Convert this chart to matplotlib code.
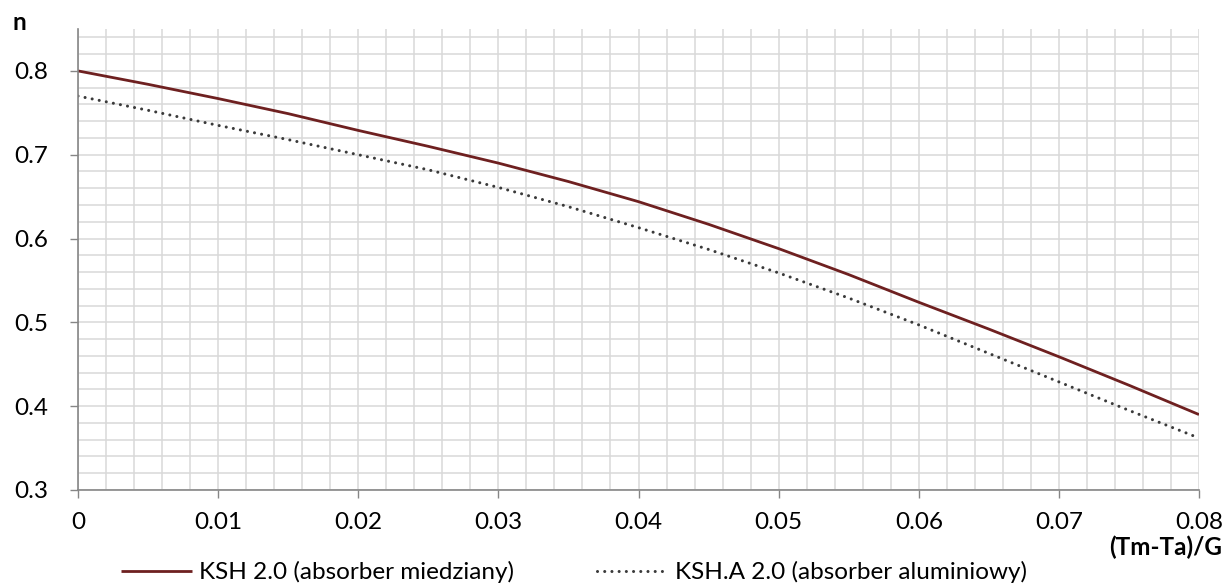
import matplotlib.pyplot as plt
from matplotlib.ticker import MultipleLocator

# (Tm-Ta)/G values and efficiency
x = [0, 0.005, 0.01, 0.015, 0.02, 0.025, 0.03, 0.035, 0.04,
     0.045, 0.05, 0.055, 0.06, 0.065, 0.07, 0.075, 0.08]
eta_cu = [0.800, 0.784, 0.767, 0.749, 0.729, 0.710, 0.690, 0.668, 0.644,
          0.617, 0.588, 0.557, 0.524, 0.492, 0.459, 0.425, 0.390]
eta_al = [0.770, 0.753, 0.735, 0.718, 0.700, 0.682, 0.661, 0.638, 0.613,
          0.587, 0.559, 0.529, 0.497, 0.463, 0.429, 0.395, 0.362]

xticks = [0, 0.01, 0.02, 0.03, 0.04, 0.05, 0.06, 0.07, 0.08]
xtick_labels = ['0', '0.01', '0.02', '0.03', '0.04', '0.05', '0.06', '0.07', '0.08']
yticks = [0.3, 0.4, 0.5, 0.6, 0.7, 0.8]
ytick_labels = ['0.3', '0.4', '0.5', '0.6', '0.7', '0.8']
labels = ['KSH 2.0 (absorber miedziany)', 'KSH.A 2.0 (absorber aluminiowy)']

plt.rcParams['font.family'] = ['Lato', 'DejaVu Sans']
plt.rcParams['font.size'] = 17.5

fig = plt.figure(figsize=(12.3, 5.87), dpi=100)
ax = fig.add_axes([78 / 1230, 1 - 490 / 587, (1199 - 78) / 1230, (490 - 29) / 587])

ax.plot(x, eta_cu, color='#6e2020', lw=2.0, solid_capstyle='butt',
        solid_joinstyle='round', label=labels[0])
ax.plot(x, eta_al, color='#3a3a3a', lw=2.2, linestyle=(0, (0.01, 2.35)),
        dash_capstyle='round', label=labels[1])

ax.set_xlim(0, 0.08)
ax.set_ylim(0.3, 0.85)
ax.set_xticks(xticks, xtick_labels)
ax.set_yticks(yticks, ytick_labels)
ax.xaxis.set_minor_locator(MultipleLocator(0.002))
ax.yaxis.set_minor_locator(MultipleLocator(0.02))

ax.grid(which='both', color='#d9d9d9', lw=1.1)
ax.set_axisbelow(True)
for s in ['top', 'right']:
    ax.spines[s].set_visible(False)
for s in ['left', 'bottom']:
    ax.spines[s].set_color('#868686')
    ax.spines[s].set_linewidth(1.2)
ax.tick_params(which='major', direction='out', length=5.5, width=1.0, color='#868686')
ax.tick_params(which='minor', length=0)
ax.tick_params(axis='y', pad=16)
ax.tick_params(axis='x', pad=10)

fig.text(12 / 1230, 1 - 22 / 587, 'n', fontweight='bold', ha='left', va='center')
fig.text(1222 / 1230, 1 - 547 / 587, '(Tm-Ta)/G', fontweight='bold', ha='right', va='center')

fig.legend(loc='center', bbox_to_anchor=(574 / 1230, 1 - 572 / 587), ncol=2, frameon=False,
           handlelength=2.9, handletextpad=0.3, columnspacing=3.4, borderaxespad=0)

fig.savefig('out.png', dpi=100)
